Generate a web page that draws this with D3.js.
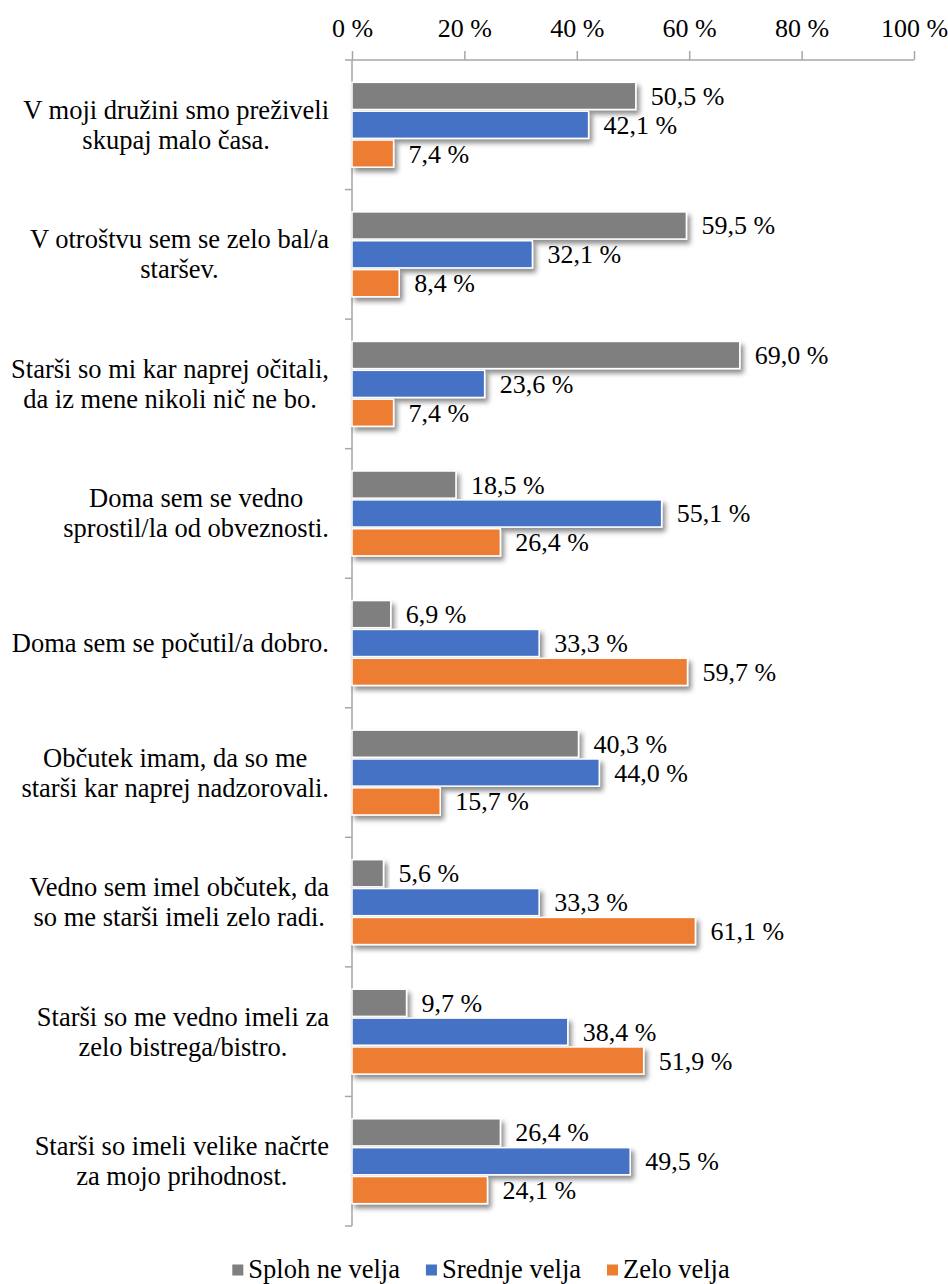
<!DOCTYPE html>
<html>
<head>
<meta charset="utf-8">
<script src="https://cdn.jsdelivr.net/npm/d3@7"></script>
<style>
  body { margin: 0; background: #fff; }
</style>
</head>
<body>
<script>
// Categories (each line of the wrapped label)
const categories = [
  ["V moji družini smo preživeli", "skupaj malo časa."],
  ["V otroštvu sem se zelo bal/a", "staršev."],
  ["Starši so mi kar naprej očitali,", "da iz mene nikoli nič ne bo."],
  ["Doma sem se vedno", "sprostil/la od obveznosti."],
  ["Doma sem se počutil/a dobro."],
  ["Občutek imam, da so me", "starši kar naprej nadzorovali."],
  ["Vedno sem imel občutek, da", "so me starši imeli zelo radi."],
  ["Starši so me vedno imeli za", "zelo bistrega/bistro."],
  ["Starši so imeli velike načrte", "za mojo prihodnost."]
];
const seriesNames = ["Sploh ne velja", "Srednje velja", "Zelo velja"];
const splohNe = [50.5, 59.5, 69.0, 18.5, 6.9, 40.3, 5.6, 9.7, 26.4];
const srednje = [42.1, 32.1, 23.6, 55.1, 33.3, 44.0, 33.3, 38.4, 49.5];
const zelo    = [7.4, 8.4, 7.4, 26.4, 59.7, 15.7, 61.1, 51.9, 24.1];
const xTicks = [0, 20, 40, 60, 80, 100];

const colors = ["#7f7f7f", "#4472c4", "#ed7d31"];
const seriesValues = [splohNe, srednje, zelo];

const width = 948, height = 1284;
const plotLeft = 352, plotRight = 914, plotTop = 60, plotBottom = 1226;
const fontSize = 26;

// serif text like the office chart
function serif(sel, size = fontSize) {
  return sel.style("font-family", "Liberation Serif")
      .style("font-size", size + "px")
      .attr("fill", "#000");
}

const svg = d3.select("body").append("svg")
    .attr("width", width)
    .attr("height", height);

// drop shadow under the bars
const defs = svg.append("defs");
const f = defs.append("filter").attr("id", "shadow")
    .attr("x", "-10%").attr("y", "-30%").attr("width", "130%").attr("height", "200%");
f.append("feDropShadow")
    .attr("dx", 3).attr("dy", 4)
    .attr("stdDeviation", 2.4)
    .attr("flood-color", "#000")
    .attr("flood-opacity", 0.45);

const x = d3.scaleLinear().domain([0, 100]).range([plotLeft, plotRight]);
const y = d3.scaleBand().domain(d3.range(categories.length)).range([plotTop, plotBottom])
    .paddingInner(0.345).paddingOuter(0.1725);
const ySub = d3.scaleBand().domain(d3.range(3)).range([0, y.bandwidth()]).paddingInner(0.06);

const fmt = v => d3.format(".1f")(v).replace(".", ",") + " %";

// top axis
const axis = svg.append("g")
    .attr("transform", `translate(0,${plotTop})`)
    .call(d3.axisTop(x).tickValues(xTicks).tickSize(9).tickPadding(14)
      .tickFormat(d => d + " %"));
axis.select(".domain").remove();
axis.selectAll(".tick line").attr("stroke", "#a6a6a6").attr("stroke-width", 1.5);
serif(axis.selectAll(".tick text"));
svg.append("line")
    .attr("x1", plotLeft - 7).attr("x2", plotRight)
    .attr("y1", plotTop).attr("y2", plotTop)
    .attr("stroke", "#a6a6a6").attr("stroke-width", 1.5);

// left axis line with category boundary ticks
svg.append("line")
    .attr("x1", plotLeft).attr("x2", plotLeft)
    .attr("y1", plotTop).attr("y2", plotBottom)
    .attr("stroke", "#a6a6a6").attr("stroke-width", 1.5);
const step = (plotBottom - plotTop) / categories.length;
svg.append("g").selectAll("line")
  .data(d3.range(1, categories.length + 1))
  .join("line")
    .attr("x1", plotLeft - 7).attr("x2", plotLeft)
    .attr("y1", d => plotTop + d * step).attr("y2", d => plotTop + d * step)
    .attr("stroke", "#a6a6a6").attr("stroke-width", 1.5);

// bars
const rows = [];
categories.forEach((c, i) => {
  seriesValues.forEach((vals, s) => rows.push({ i, s, v: vals[i] }));
});

svg.append("g")
  .selectAll("rect")
  .data(rows)
  .join("rect")
    .attr("x", x(0))
    .attr("y", d => y(d.i) + ySub(d.s))
    .attr("width", d => x(d.v) - x(0))
    .attr("height", ySub.bandwidth())
    .attr("fill", d => colors[d.s])
    .attr("stroke", "#fff")
    .attr("stroke-width", 1.5)
    .attr("filter", "url(#shadow)");

// value labels
svg.append("g")
  .selectAll("text")
  .data(rows)
  .join("text")
    .attr("x", d => x(d.v) + 15)
    .attr("y", d => y(d.i) + ySub(d.s) + ySub.bandwidth() / 2 + 9)
    .call(serif)
    .text(d => fmt(d.v));

// category labels, centered lines in a right-aligned block
const labelRight = 329;
const lineGap = 30;
const cat = svg.append("g").selectAll("g")
  .data(categories)
  .join("g");
cat.each(function(lines, i) {
  const g = d3.select(this);
  const cy = y(i) + y.bandwidth() / 2;
  const texts = g.selectAll("text").data(lines).join("text")
      .call(serif, 26.5)
      .attr("text-anchor", "middle")
      .attr("y", (d, k) => cy + (k - (lines.length - 1) / 2) * lineGap + 9)
      .text(d => d);
  let maxW = 0;
  texts.each(function() { maxW = Math.max(maxW, this.getComputedTextLength()); });
  texts.attr("x", labelRight - maxW / 2);
});

// legend, laid out left to right and centred under the chart
const legendY = 1270;
const sq = 11, sqGap = 5, itemGap = 26;
const leg = svg.append("g");
const items = leg.selectAll("g")
  .data(seriesNames)
  .join("g");
items.append("rect")
    .attr("x", 0).attr("y", -sq / 2)
    .attr("width", sq).attr("height", sq)
    .attr("fill", (d, i) => colors[i]);
items.append("text")
    .attr("x", sq + sqGap).attr("y", 8)
    .call(serif, 26.5)
    .text(d => d);
let cx = 0;
items.each(function() {
  const w = sq + sqGap + d3.select(this).select("text").node().getComputedTextLength();
  d3.select(this).attr("transform", `translate(${cx},0)`);
  cx += w + itemGap;
});
const legW = cx - itemGap;
leg.attr("transform", `translate(${481 - legW / 2},${legendY})`);
</script>
</body>
</html>
